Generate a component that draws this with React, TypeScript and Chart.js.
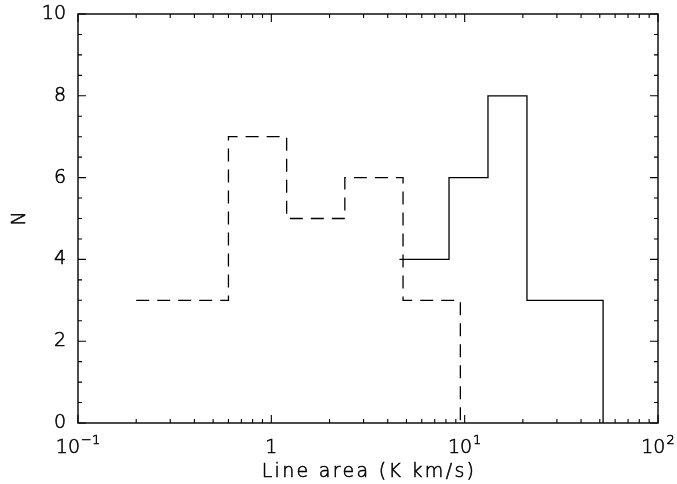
import React, { useEffect, useRef } from "react";
import { Chart, registerables } from "chart.js";

Chart.register(...registerables);

// Bin edges (K km/s) and counts
const dashedEdges = [0.2, 0.6, 1.2, 2.4, 4.8, 9.5];
const dashedCounts = [3, 7, 5, 6, 3];
const solidEdges = [4.6, 8.3, 13.2, 21, 52];
const solidCounts = [4, 6, 8, 3];

// Axis tick labels
const xTickValues = [0.1, 1, 10, 100];
const xTickBases = ["10", "1", "10", "10"];
const xTickExponents = ["\u22121", "", "1", "2"];
const xMinorMultipliers = [2, 3, 4, 5, 6, 7, 8, 9];
const yMajorTicks = [0, 2, 4, 6, 8, 10];
const yMinorStep = 0.5;
const xTitle = "Line area (K km/s)";
const yTitle = "N";

const FONT = "'DejaVu Sans', sans-serif";
const FW = "200";
const FS = 19;

function toSteps(edges: number[], counts: number[]) {
  const pts = counts.map((c, i) => ({ x: edges[i], y: c }));
  pts.push({ x: edges[edges.length - 1], y: 0 });
  return pts;
}

function text(ctx: any, s: string, x: number, y: number) {
  ctx.fillText(s, x, y);
  ctx.strokeText(s, x, y);
}

const framePlugin = {
  id: "frame",
  afterDraw(chart: any) {
    const { ctx, chartArea } = chart;
    const xs = chart.scales.x;
    const ys = chart.scales.y;
    const { left, right, top, bottom } = chartArea;
    ctx.save();
    ctx.strokeStyle = "#000";
    ctx.lineWidth = 1.4;
    ctx.strokeRect(left, top, right - left, bottom - top);
    ctx.lineWidth = 1.1;
    ctx.beginPath();
    const majL = 8;
    const minL = 4;
    for (let d = 0; d < xTickValues.length; d++) {
      const v = xTickValues[d];
      const px = xs.getPixelForValue(v);
      ctx.moveTo(px, bottom);
      ctx.lineTo(px, bottom - majL);
      ctx.moveTo(px, top);
      ctx.lineTo(px, top + majL);
      if (d < xTickValues.length - 1) {
        for (const m of xMinorMultipliers) {
          const mx = xs.getPixelForValue(v * m);
          ctx.moveTo(mx, bottom);
          ctx.lineTo(mx, bottom - minL);
          ctx.moveTo(mx, top);
          ctx.lineTo(mx, top + minL);
        }
      }
    }
    const yMax = yMajorTicks[yMajorTicks.length - 1];
    for (let v = 0; v <= yMax + 1e-9; v += yMinorStep) {
      const py = ys.getPixelForValue(v);
      const isMaj = yMajorTicks.includes(Math.round(v * 100) / 100);
      const L = isMaj ? majL : minL;
      ctx.moveTo(left, py);
      ctx.lineTo(left + L, py);
      ctx.moveTo(right, py);
      ctx.lineTo(right - L, py);
    }
    ctx.stroke();

    ctx.fillStyle = "#000";
    ctx.strokeStyle = "#000";
    ctx.lineWidth = 0.55;

    // y tick labels
    ctx.font = `${FW} ${FS}px ${FONT}`;
    ctx.textAlign = "right";
    ctx.textBaseline = "middle";
    for (const v of yMajorTicks) {
      text(ctx, String(v), left - 12, ys.getPixelForValue(v));
    }

    // x tick labels with superscript exponents
    ctx.textBaseline = "alphabetic";
    ctx.textAlign = "left";
    const baseY = bottom + 30;
    for (let i = 0; i < xTickValues.length; i++) {
      const px = xs.getPixelForValue(xTickValues[i]);
      ctx.font = `${FW} ${FS}px ${FONT}`;
      const wb = ctx.measureText(xTickBases[i]).width;
      ctx.font = `${FW} 13px ${FONT}`;
      const we = xTickExponents[i] ? ctx.measureText(xTickExponents[i]).width + 1 : 0;
      const start = px - (wb + we) / 2;
      ctx.font = `${FW} ${FS}px ${FONT}`;
      text(ctx, xTickBases[i], start, baseY);
      if (xTickExponents[i]) {
        ctx.font = `${FW} 13px ${FONT}`;
        text(ctx, xTickExponents[i], start + wb + 1, baseY - 9);
      }
    }

    // x axis title (wide letter spacing like the original plotting font)
    ctx.font = `${FW} ${FS}px ${FONT}`;
    (ctx as any).letterSpacing = "2.3px";
    ctx.textAlign = "center";
    text(ctx, xTitle, (left + right) / 2 + 1, bottom + 54);
    (ctx as any).letterSpacing = "0px";

    // y axis title, rotated
    ctx.save();
    ctx.translate(20, (top + bottom) / 2);
    ctx.rotate(-Math.PI / 2);
    ctx.textBaseline = "middle";
    text(ctx, yTitle, 0, 0);
    ctx.restore();

    ctx.restore();
  },
};

export default function App() {
  const ref = useRef<HTMLCanvasElement>(null);
  useEffect(() => {
    document.body.style.margin = "0";
    const canvas = ref.current;
    if (!canvas) return;
    const chart = new Chart(canvas, {
      type: "scatter",
      data: {
        datasets: [
          {
            label: "dashed",
            data: toSteps(dashedEdges, dashedCounts),
            showLine: true,
            stepped: "before",
            borderColor: "#000",
            borderWidth: 1.3,
            borderDash: [13, 8],
            pointRadius: 0,
            fill: false,
          },
          {
            label: "solid",
            data: toSteps(solidEdges, solidCounts),
            showLine: true,
            stepped: "before",
            borderColor: "#000",
            borderWidth: 1.3,
            pointRadius: 0,
            fill: false,
          },
        ],
      },
      options: {
        responsive: false,
        animation: false,
        layout: { padding: { top: 14, right: 19, left: 0, bottom: 0 } },
        plugins: {
          legend: { display: false },
          tooltip: { enabled: false },
        },
        scales: {
          x: {
            type: "logarithmic",
            min: 0.1,
            max: 100,
            grid: { display: false, drawTicks: false },
            border: { display: false },
            ticks: { display: false },
            title: { display: false },
            afterFit: (s: any) => {
              s.height = 61;
            },
          },
          y: {
            type: "linear",
            min: 0,
            max: 10,
            grid: { display: false, drawTicks: false },
            border: { display: false },
            ticks: { display: false, stepSize: 2 },
            title: { display: false },
            afterFit: (s: any) => {
              s.width = 78;
            },
          },
        },
      },
      plugins: [framePlugin],
    });
    return () => chart.destroy();
  }, []);
  return <canvas ref={ref} width={677} height={484} style={{ display: "block" }} />;
}
